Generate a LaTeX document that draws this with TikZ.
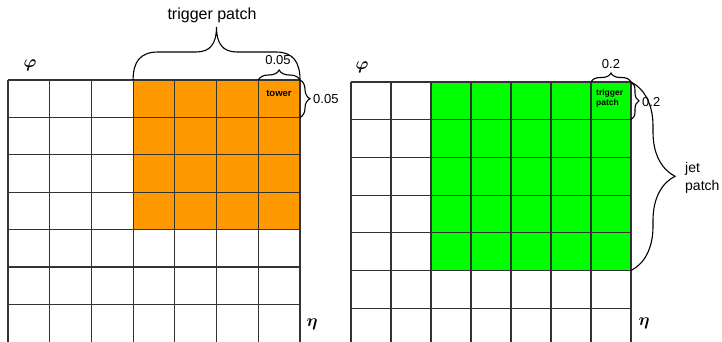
\documentclass[tikz,border=0pt]{standalone}
\usepackage{amsmath}
\usepackage{fontspec}
\setmainfont{Liberation Sans}
\usetikzlibrary{decorations.pathreplacing}
\definecolor{patchorange}{RGB}{255,153,0}
\definecolor{patchgreen}{RGB}{0,255,0}

\begin{document}
\begin{tikzpicture}[
    x=1pt, y=-1pt,
    gridline/.style={line width=1.2pt, black!80},
    braceline/.style={line width=1.1pt, black},
    bracket/.style={braceline, decorate, decoration={brace, amplitude=#1}},
    celltext/.style={font=\fontsize{9.5}{10.5}\selectfont\bfseries, inner sep=0pt},
    valtext/.style={font=\fontsize{13}{13}\selectfont, inner sep=0pt},
    bigtext/.style={font=\fontsize{16}{16}\selectfont, inner sep=0pt},
    axistext/.style={font=\fontsize{17.28}{18}\selectfont\boldmath, inner sep=0pt}
]
\useasboundingbox (0,0) rectangle (722,341);

% --- Tower grid (left) ---
\fill[patchorange] (133.1,80) rectangle (300,229.6);
\foreach \i in {0,...,7}
    \draw[gridline] ({8+41.71*\i},80) -- ({8+41.71*\i},342);
\foreach \j in {0,...,6}
    \draw[gridline] (8,{80+37.4*\j}) -- (300,{80+37.4*\j});
\coordinate (TPleft) at (133.1,80);
\coordinate (TPright) at (300,80);
\coordinate (TWleft) at (258.3,80);
\coordinate (TWbottom) at (300,117.4);
\node[celltext] (Tower) at (279,93) {tower};
\node[axistext] (PhiL) at (30,65) {$\varphi$};
\node[axistext] (EtaL) at (312,324) {$\eta$};
% braces
\draw[braceline] (TPleft) .. controls (133.1,62) and (140,52) .. (158,52)
    -- (196,52) .. controls (210,52) and (216.5,44) .. (216.5,27)
    .. controls (216.5,44) and (223,52) .. (237,52)
    -- (276,52) .. controls (293,52) and (300,62) .. (TPright);
\node[bigtext] (TPtext) at (212,15) {trigger patch};
\draw[bracket=10] (TWleft) -- (TPright);
\node[valtext] (TWwidth) at (278,60) {0.05};
\draw[bracket=10] (TPright) -- (TWbottom);
\node[valtext, anchor=west] (TWheight) at (313,99) {0.05};

% --- Trigger patch grid (right) ---
\fill[patchgreen] (431,82) rectangle (631,270.5);
\foreach \i in {0,...,7}
    \draw[gridline] ({351+40*\i},82) -- ({351+40*\i},342);
\foreach \j in {0,...,6}
    \draw[gridline] (351,{82+37.7*\j}) -- (631,{82+37.7*\j});
\coordinate (JPtop) at (631,82);
\coordinate (JPbottom) at (631,270.5);
\coordinate (TGleft) at (591,82);
\coordinate (TGbottom) at (631,119.7);
\node[celltext, font=\fontsize{8.5}{10}\selectfont\bfseries, align=left, anchor=west]
    (TGcell) at (596,98) {trigger\\patch};
\node[axistext] (PhiR) at (362,67) {$\varphi$};
\node[axistext] (EtaR) at (644,323) {$\eta$};
% braces
\draw[bracket=9] (TGleft) -- (JPtop);
\node[valtext] (TGwidth) at (611,64) {0.2};
\draw[bracket=8] (JPtop) -- (TGbottom);
\node[valtext, anchor=west] (TGheight) at (642,102) {0.2};
\draw[bracket=44] (JPtop) -- (JPbottom);
\node[valtext, font=\fontsize{14}{18}\selectfont, align=left, anchor=west]
    (JPtext) at (685,178) {jet\\patch};
\end{tikzpicture}
\end{document}
